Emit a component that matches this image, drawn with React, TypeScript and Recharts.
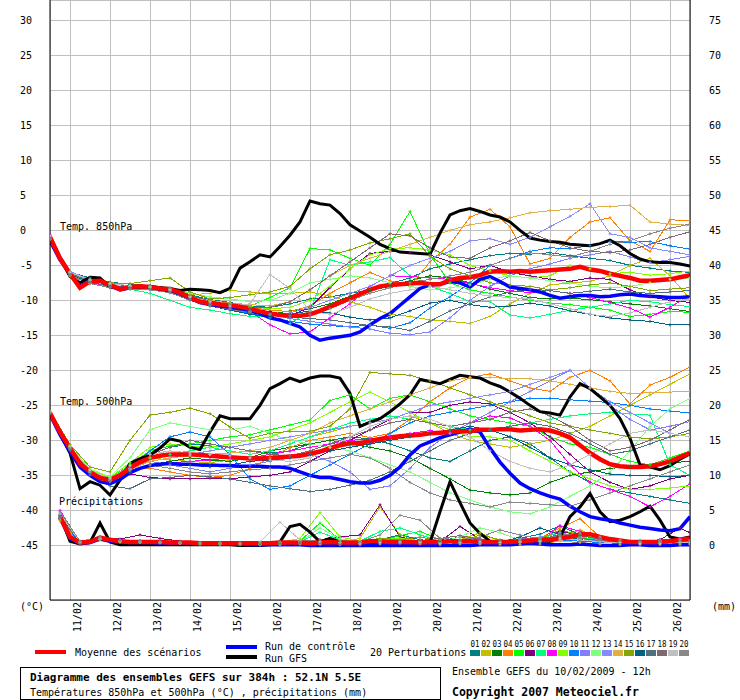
import React from 'react';
import { LineChart, Line, XAxis, YAxis, CartesianGrid } from 'recharts';

const FONT = "'DejaVu Sans Mono', monospace";

// time steps, in hours after the run (10/02 12h)
const STEPS_6H = Array.from({ length: 65 }, (_, i) => i * 6);
const STEPS_12H = Array.from({ length: 33 }, (_, i) => i * 12);
const RAIN_6H = Array.from({ length: 64 }, (_, i) => 6 + i * 6);
const RAIN_12H = [...Array.from({ length: 32 }, (_, i) => 6 + i * 12), 384];

const DAY_TICKS = [12, 36, 60, 84, 108, 132, 156, 180, 204, 228, 252, 276, 300, 324, 348, 372];
const DAY_LABELS = ['11/02', '12/02', '13/02', '14/02', '15/02', '16/02', '17/02', '18/02',
  '19/02', '20/02', '21/02', '22/02', '23/02', '24/02', '25/02', '26/02'];
const TEMP_TICKS = [-45, -40, -35, -30, -25, -20, -15, -10, -5, 0, 5, 10, 15, 20, 25, 30];
const RAIN_TICKS = [0, 5, 10, 15, 20, 25, 30, 35, 40, 45, 50, 55, 60, 65, 70, 75];

const MEMBER_COLORS = ['#008080', '#c0c000', '#008000', '#ff8000', '#00ff00', '#800080', '#00ff80',
  '#ff00ff', '#80ff00', '#0080ff', '#8080ff', '#80ff80', '#8888ff', '#e0b040', '#80a800',
  '#006080', '#507080', '#806870', '#c0c0c0', '#888888'];

// 850 hPa (6-hourly)
const MEAN_850 = [-1.0, -4.0, -6.2, -8.2, -7.3, -7.2, -7.8, -8.4, -8.1, -8.0,
  -8.1, -8.3, -8.4, -8.9, -9.6, -10.2, -10.4, -10.6, -10.7, -10.9,
  -11.2, -11.6, -11.9, -12.1, -12.2, -12.2, -12.0, -11.5, -10.9, -10.3,
  -9.7, -9.1, -8.5, -8.0, -7.8, -7.7, -7.6, -7.5, -7.7, -7.7,
  -7.1, -6.8, -6.7, -6.4, -5.9, -5.8, -5.9, -5.8, -5.9, -5.8,
  -5.7, -5.6, -5.5, -5.2, -5.6, -5.8, -6.2, -6.5, -6.8, -7.2,
  -7.2, -7.1, -7.0, -6.7, -6.4];
const GFS_850 = [-0.8, -4.0, -6.6, -7.5, -6.7, -6.8, -8.1, -8.3, -8.2, -8.1,
  -8.0, -8.2, -8.3, -8.6, -8.4, -8.5, -8.6, -8.9, -8.3, -5.4,
  -4.5, -3.5, -3.8, -2.3, -0.7, 1.2, 4.2, 3.8, 3.6, 2.4,
  0.8, -0.1, -1.0, -2.0, -2.6, -3.1, -3.2, -3.3, -3.4, -0.4,
  2.2, 2.8, 3.1, 2.7, 2.2, 1.9, 1.2, 0.0, -1.1, -1.4,
  -1.6, -1.7, -2.0, -2.1, -2.2, -1.9, -1.4, -2.2, -3.3, -4.1,
  -4.5, -4.6, -4.6, -4.8, -5.1];
const CTRL_850 = [-1.5, -4.2, -6.2, -8.0, -7.2, -7.2, -7.9, -8.5, -8.2, -8.0,
  -8.1, -8.4, -8.6, -9.0, -9.7, -10.3, -10.6, -10.8, -11.0, -11.2,
  -11.4, -11.9, -12.5, -12.8, -13.3, -13.8, -15.0, -15.7, -15.4, -15.2,
  -15.0, -14.5, -13.5, -12.6, -11.9, -10.7, -9.5, -8.3, -7.8, -7.7,
  -7.3, -7.5, -8.1, -7.0, -6.6, -7.3, -8.1, -8.3, -8.5, -8.8,
  -9.3, -9.7, -9.5, -9.3, -9.3, -9.5, -9.4, -9.2, -9.1, -9.3,
  -9.4, -9.5, -9.6, -9.6, -9.5];

// 500 hPa (6-hourly)
const MEAN_500 = [-26.1, -28.8, -31.1, -33.3, -34.5, -35.4, -35.6, -35.0, -33.9, -33.1,
  -32.5, -32.2, -32.0, -32.0, -32.0, -32.1, -32.2, -32.3, -32.4, -32.5,
  -32.6, -32.6, -32.5, -32.4, -32.3, -32.2, -31.9, -31.6, -31.1, -30.7,
  -30.4, -30.4, -30.1, -29.8, -29.6, -29.4, -29.3, -29.2, -29.0, -28.9,
  -28.8, -28.7, -28.7, -28.5, -28.5, -28.4, -28.4, -28.6, -28.5, -28.4,
  -28.6, -29.0, -29.6, -30.7, -31.8, -32.7, -33.4, -33.7, -33.8, -33.8,
  -33.7, -33.4, -33.0, -32.4, -31.8];
const GFS_500 = [-26.0, -29.0, -31.8, -36.9, -35.9, -36.4, -37.8, -35.7, -33.3, -32.6,
  -32.1, -31.1, -29.8, -30.1, -31.0, -31.3, -28.8, -26.5, -26.9, -26.9,
  -26.9, -25.0, -22.6, -21.9, -21.1, -21.6, -21.1, -20.8, -20.8, -21.1,
  -23.3, -28.0, -27.4, -26.9, -25.9, -24.8, -23.5, -21.3, -21.6, -21.9,
  -21.3, -20.7, -20.9, -21.1, -21.8, -22.3, -23.1, -24.0, -25.0, -25.9,
  -26.1, -26.4, -23.8, -21.9, -22.6, -23.8, -25.0, -26.9, -29.7, -33.5,
  -33.8, -34.2, -33.6, -32.7, -31.9];
const CTRL_500 = [-26.3, -29.2, -31.6, -33.8, -35.0, -35.9, -36.2, -35.6, -34.6, -34.0,
  -33.6, -33.4, -33.3, -33.4, -33.4, -33.5, -33.5, -33.6, -33.6, -33.7,
  -33.7, -33.7, -33.8, -33.8, -34.0, -34.5, -35.0, -35.3, -35.3, -35.6,
  -35.9, -36.1, -36.1, -35.7, -35.0, -33.8, -32.1, -30.8, -30.2, -29.6,
  -29.2, -28.8, -28.4, -28.8, -31.1, -33.1, -34.7, -36.1, -36.9, -37.5,
  -38.0, -38.4, -39.4, -40.2, -40.9, -41.2, -41.4, -41.8, -42.1, -42.4,
  -42.6, -42.8, -42.9, -42.6, -40.9];

// precipitation in mm (6-hourly, from +6h)
const MEAN_RAIN = [4.1, 1.2, 0.4, 0.5, 1.1, 0.8, 0.6, 0.5, 0.5, 0.5,
  0.5, 0.4, 0.4, 0.4, 0.3, 0.3, 0.3, 0.3, 0.3, 0.3,
  0.3, 0.3, 0.4, 0.4, 0.4, 0.3, 0.4, 0.5, 0.4, 0.4,
  0.4, 0.6, 0.6, 0.5, 0.5, 0.5, 0.4, 0.5, 0.5, 0.6,
  0.6, 0.6, 0.5, 0.5, 0.5, 0.5, 0.6, 0.7, 0.8, 0.8,
  1.0, 1.2, 1.6, 1.6, 1.2, 0.9, 0.7, 0.5, 0.5, 0.5,
  0.5, 0.6, 0.8, 1.0];
const GFS_RAIN = [4.3, 0.6, 0.2, 0.4, 3.2, 0.5, 0.1, 0.1, 0.1, 0.1,
  0.1, 0.1, 0.1, 0.1, 0.1, 0.1, 0.1, 0.1, 0.0, 0.0,
  0.0, 0.1, 0.5, 2.7, 3.0, 1.9, 0.5, 1.0, 0.5, 0.1,
  0.1, 0.2, 0.3, 0.1, 0.1, 0.1, 0.1, 0.4, 4.8, 9.1,
  6.1, 3.2, 1.7, 0.6, 0.3, 0.3, 0.3, 0.4, 0.6, 0.6,
  1.2, 4.1, 5.5, 7.4, 4.8, 3.4, 3.6, 4.1, 4.8, 5.6,
  3.6, 1.2, 0.9, 1.2];
const CTRL_RAIN = [4.0, 1.0, 0.3, 0.4, 0.9, 0.6, 0.5, 0.4, 0.4, 0.4,
  0.3, 0.3, 0.3, 0.3, 0.2, 0.2, 0.2, 0.2, 0.2, 0.1,
  0.1, 0.1, 0.1, 0.1, 0.1, 0.0, 0.0, 0.0, 0.0, 0.0,
  0.0, 0.0, 0.0, 0.0, 0.0, 0.0, 0.0, 0.0, 0.0, 0.0,
  0.0, 0.0, 0.1, 0.1, 0.1, 0.1, 0.2, 0.3, 0.2, 0.1,
  0.1, 0.1, 0.2, 0.1, 0.0, 0.0, 0.0, 0.1, 0.1, 0.0,
  0.0, 0.0, 0.1, 0.1];

// 20 perturbations, 12-hourly
const MEMBERS_850 = [
  [-0.8, -6.0, -6.8, -7.4, -7.7, -7.9, -8.2, -9.2, -9.9, -10.3, -10.8, -11.0, -10.5, -9.8, -9.5, -9.0, -8.5, -7.6, -6.8, -5.5, -4.8, -4.2, -3.6, -3.3, -3.4, -3.2, -3.6, -4.0, -4.3, -5.0, -5.4, -5.8, -6.0],
  [-1.3, -6.3, -7.2, -8.0, -8.3, -8.1, -8.6, -9.2, -9.0, -8.6, -8.8, -9.1, -9.0, -8.8, -9.4, -10.2, -11.0, -12.0, -12.3, -12.8, -13.0, -13.3, -12.3, -10.5, -9.0, -7.8, -7.5, -7.3, -6.5, -5.0, -4.0, -6.5, -9.8],
  [-1.0, -6.1, -7.5, -7.9, -8.3, -8.2, -8.8, -9.9, -10.6, -11.2, -11.8, -12.0, -11.5, -11.2, -10.5, -9.4, -8.6, -8.0, -7.2, -6.5, -6.8, -7.5, -8.4, -9.0, -9.6, -9.8, -9.7, -9.9, -10.2, -10.5, -10.8, -11.2, -11.6],
  [-1.2, -6.5, -7.6, -8.0, -8.3, -8.3, -8.5, -9.4, -10.0, -10.6, -11.0, -11.4, -11.6, -10.8, -9.0, -7.5, -6.0, -7.2, -8.0, -4.5, -2.0, 1.9, 3.0, 0.5, -4.8, -4.0, -1.0, 1.2, 1.8, -1.5, -3.0, 1.5, 1.4],
  [-0.9, -5.9, -7.0, -7.6, -7.9, -8.0, -8.4, -9.5, -10.2, -10.6, -10.8, -9.6, -8.2, -2.6, -2.8, -4.0, -5.0, -2.0, 2.7, -3.5, -7.5, -8.5, -9.0, -9.5, -10.0, -10.4, -10.6, -11.0, -11.4, -12.3, -12.0, -11.6, -11.7],
  [-1.1, -6.2, -7.4, -7.9, -8.1, -8.3, -8.6, -9.7, -10.5, -11.0, -11.3, -11.6, -12.2, -11.0, -8.2, -5.5, -3.3, -3.0, -3.2, -3.5, -4.5, -5.5, -5.0, -6.0, -6.5, -7.0, -7.3, -6.8, -7.0, -8.5, -9.5, -10.0, -10.3],
  [-1.0, -6.0, -7.3, -7.9, -8.4, -9.0, -10.0, -11.0, -11.4, -11.9, -12.3, -12.4, -13.3, -11.5, -4.2, -5.0, -4.5, -3.9, -6.5, -8.0, -9.0, -10.2, -10.2, -12.1, -12.5, -12.0, -11.4, -11.0, -10.5, -10.0, -10.2, -10.6, -10.9],
  [-0.6, -6.3, -7.5, -8.0, -8.2, -8.4, -8.7, -9.8, -10.6, -11.2, -11.6, -13.5, -14.8, -14.5, -12.5, -10.5, -8.0, -6.5, -6.6, -6.8, -7.0, -7.6, -8.2, -8.6, -8.9, -8.6, -9.0, -9.6, -10.3, -11.1, -12.4, -11.0, -9.3],
  [-1.0, -6.1, -7.2, -7.7, -8.0, -8.2, -8.5, -9.4, -10.0, -10.5, -10.9, -11.2, -11.0, -10.0, -8.0, -5.5, -3.5, -2.6, -2.5, -2.8, -3.5, -5.0, -5.8, -6.5, -6.8, -6.5, -5.0, -5.5, -6.2, -6.0, -6.4, -6.2, -5.8],
  [-1.1, -6.2, -7.3, -7.9, -8.2, -8.4, -8.9, -9.9, -10.7, -11.3, -11.9, -12.5, -13.0, -13.4, -13.6, -13.8, -13.5, -14.0, -13.2, -11.1, -9.5, -7.5, -5.0, -4.0, -3.0, -2.5, -2.6, -2.2, -1.6, -1.7, -1.6, -2.2, -2.7],
  [-1.0, -6.0, -7.1, -7.7, -8.0, -8.1, -8.5, -9.6, -10.4, -10.9, -11.5, -12.0, -12.6, -13.0, -13.4, -13.8, -14.1, -14.7, -14.9, -14.5, -12.5, -10.0, -8.0, -6.5, -5.5, -4.8, -4.0, -3.5, -3.0, -3.8, -4.6, -4.2, -3.7],
  [-1.1, -6.2, -7.4, -7.8, -8.0, -8.0, -8.3, -9.0, -9.5, -9.8, -10.2, -10.0, -9.0, -7.5, -7.0, -6.5, -6.8, -7.5, -8.0, -8.5, -8.2, -7.8, -7.0, -6.5, -6.8, -7.2, -7.5, -8.0, -8.2, -8.0, -7.5, -7.0, -6.8],
  [-0.9, -5.9, -7.0, -7.6, -7.9, -8.2, -8.6, -9.8, -10.6, -11.1, -11.6, -12.0, -11.8, -11.0, -10.0, -9.0, -8.0, -6.5, -5.0, -4.0, -3.0, -1.5, -1.2, -2.0, -1.0, 0.5, 2.0, 3.8, -0.5, -1.0, -2.5, -3.0, -3.5],
  [-1.2, -6.4, -7.6, -8.1, -8.2, -8.3, -8.7, -9.5, -10.0, -10.4, -10.6, -10.8, -10.2, -8.5, -6.5, -5.0, -4.0, -3.0, -2.0, -1.0, 0.0, 0.8, 1.2, 1.8, 2.5, 2.8, 3.0, 3.3, 3.4, 3.6, 1.2, 0.9, 0.7],
  [-1.0, -6.0, -7.1, -7.5, -7.6, -7.2, -6.8, -8.8, -9.8, -9.6, -9.2, -8.8, -8.0, -5.5, -3.5, -2.8, -1.8, -1.2, -0.5, -3.7, -5.5, -6.5, -7.5, -7.8, -8.0, -8.5, -8.2, -7.8, -7.5, -8.0, -8.6, -8.4, -8.2],
  [-1.1, -6.3, -7.4, -8.0, -8.2, -8.3, -8.8, -9.9, -10.8, -11.4, -12.0, -12.3, -12.0, -11.5, -11.8, -12.4, -12.8, -12.5, -11.5, -10.4, -10.0, -10.6, -11.0, -10.8, -10.4, -10.8, -11.5, -12.0, -12.5, -12.8, -13.0, -13.5, -13.5],
  [-1.2, -6.2, -7.3, -8.1, -8.3, -8.4, -8.7, -9.8, -10.6, -11.0, -11.4, -11.9, -12.4, -12.6, -12.8, -13.2, -13.6, -13.8, -14.3, -13.0, -11.5, -10.5, -9.5, -8.8, -8.4, -8.6, -9.0, -8.7, -8.4, -8.8, -9.0, -8.8, -8.6],
  [-1.0, -6.1, -7.2, -7.7, -7.9, -8.0, -8.3, -9.3, -10.1, -10.6, -11.0, -11.0, -10.2, -8.5, -6.5, -4.5, -2.5, -0.5, -0.8, -2.5, -3.8, -4.0, -2.5, -1.5, -0.3, -1.5, -2.5, -3.0, -3.2, -2.8, -2.0, -1.0, -0.2],
  [-0.8, -6.0, -7.1, -7.6, -7.9, -8.1, -8.5, -9.5, -10.2, -10.8, -10.5, -6.3, -8.3, -11.5, -12.0, -11.0, -9.8, -9.0, -8.5, -8.0, -8.5, -9.0, -9.4, -9.6, -9.8, -10.5, -11.2, -12.0, -12.3, -11.8, -11.0, -10.2, -9.8],
  [-1.3, -6.4, -7.6, -8.2, -8.4, -8.5, -8.9, -10.0, -10.8, -11.3, -11.7, -12.0, -12.2, -12.0, -11.2, -10.0, -9.0, -8.2, -7.5, -7.0, -6.5, -6.0, -5.0, -4.0, -3.2, -3.5, -3.8, -3.0, -2.0, -1.5, -0.5, 0.3, 0.9],
];

const MEMBERS_500 = [
  [-26.0, -31.0, -34.3, -35.5, -33.5, -32.0, -31.0, -30.5, -30.8, -31.0, -31.5, -31.8, -31.5, -30.5, -30.0, -29.5, -29.8, -30.5, -31.5, -32.5, -33.0, -31.5, -30.0, -29.5, -30.5, -32.5, -34.5, -36.0, -37.0, -37.5, -38.0, -38.5, -39.0],
  [-26.1, -31.2, -34.6, -35.8, -34.0, -32.5, -32.8, -33.0, -33.2, -32.8, -32.5, -31.5, -30.5, -29.5, -28.8, -28.0, -27.5, -27.0, -26.5, -27.5, -29.0, -30.0, -30.5, -31.0, -30.5, -30.0, -29.0, -28.0, -26.5, -25.0, -23.5, -22.0, -20.5],
  [-26.0, -31.3, -34.7, -35.9, -34.5, -33.5, -33.0, -32.5, -32.8, -33.0, -32.5, -31.5, -31.0, -30.5, -30.0, -30.5, -31.0, -31.5, -32.5, -34.0, -35.5, -37.1, -37.5, -37.8, -37.5, -36.0, -35.0, -34.5, -34.0, -33.8, -33.5, -33.2, -33.0],
  [-26.1, -31.0, -34.4, -35.7, -34.2, -34.0, -34.5, -35.0, -35.3, -35.0, -34.0, -32.5, -31.0, -30.0, -29.5, -29.0, -29.6, -29.0, -27.0, -24.5, -22.5, -21.0, -20.5, -21.5, -22.5, -23.0, -21.0, -20.0, -21.5, -24.8, -22.1, -21.0, -19.5],
  [-26.0, -30.9, -34.2, -35.4, -33.5, -31.5, -30.8, -30.5, -30.0, -29.5, -29.2, -28.5, -27.8, -27.1, -24.3, -23.5, -25.5, -24.0, -23.5, -24.5, -25.5, -26.5, -27.0, -27.5, -28.0, -29.5, -30.5, -31.0, -32.0, -33.0, -33.5, -32.5, -31.5],
  [-26.0, -31.1, -34.5, -35.6, -34.8, -35.3, -35.5, -35.5, -35.4, -35.5, -35.2, -35.0, -34.5, -33.0, -31.5, -30.0, -28.5, -27.0, -26.0, -26.0, -25.0, -24.5, -24.8, -26.0, -27.5, -29.5, -32.0, -34.5, -36.0, -37.0, -36.5, -35.5, -35.0],
  [-26.1, -31.2, -34.6, -35.8, -34.0, -32.5, -32.0, -31.5, -31.0, -31.5, -32.0, -31.5, -30.5, -29.5, -28.5, -27.5, -27.0, -26.5, -27.0, -27.5, -28.0, -28.5, -28.5, -28.0, -27.5, -27.0, -26.5, -26.2, -26.0, -26.2, -26.4, -33.5, -35.0],
  [-26.2, -31.3, -34.8, -36.0, -34.5, -33.5, -33.2, -33.0, -32.8, -32.5, -32.5, -32.0, -31.5, -31.0, -30.5, -30.0, -29.8, -29.5, -29.0, -28.6, -29.0, -27.5, -26.5, -26.8, -28.0, -30.0, -33.5, -36.0, -37.0, -38.0, -39.5, -38.0, -36.2],
  [-25.9, -30.8, -34.2, -35.3, -33.2, -31.0, -30.5, -30.8, -31.0, -30.5, -30.0, -29.5, -28.5, -27.5, -26.0, -24.5, -23.1, -24.5, -26.0, -27.5, -28.5, -29.5, -29.5, -30.0, -31.5, -33.0, -34.5, -35.5, -36.5, -37.0, -37.0, -36.8, -36.5],
  [-26.1, -31.1, -34.6, -35.7, -34.0, -31.5, -29.5, -28.8, -29.5, -32.0, -35.5, -37.0, -36.5, -35.0, -33.5, -32.0, -30.5, -29.0, -27.5, -26.5, -26.0, -25.5, -25.0, -24.5, -24.0, -24.0, -24.2, -24.4, -24.6, -25.0, -25.5, -25.8, -26.1],
  [-26.0, -31.0, -34.4, -35.5, -34.0, -33.0, -33.5, -34.0, -34.5, -34.0, -33.5, -33.0, -32.5, -32.0, -33.0, -34.5, -37.0, -36.5, -34.0, -31.0, -29.0, -27.5, -26.0, -24.5, -23.0, -21.5, -20.0, -22.5, -25.0, -27.0, -28.5, -28.0, -27.3],
  [-25.9, -30.8, -34.1, -35.2, -32.5, -28.5, -27.5, -28.0, -28.5, -28.5, -28.0, -29.0, -30.0, -30.5, -31.0, -31.5, -32.5, -33.5, -34.5, -36.0, -37.5, -38.5, -39.5, -40.2, -40.5, -39.5, -38.0, -36.5, -34.5, -31.5, -28.0, -25.5, -24.0],
  [-26.1, -31.2, -34.5, -35.6, -34.0, -33.0, -32.5, -32.0, -31.5, -31.0, -30.5, -30.0, -29.5, -29.0, -28.5, -28.0, -27.5, -27.0, -26.0, -25.0, -24.5, -24.0, -23.5, -23.0, -22.0, -21.0, -20.0, -22.5, -24.5, -26.0, -27.5, -29.0, -29.5],
  [-26.0, -31.1, -34.5, -35.7, -34.2, -33.0, -32.5, -32.2, -32.0, -31.8, -31.5, -31.0, -30.0, -29.0, -27.5, -26.5, -25.5, -24.5, -23.5, -22.5, -21.5, -21.0, -21.0, -21.2, -21.2, -21.5, -22.0, -22.5, -23.0, -23.3, -23.2, -23.1, -23.0],
  [-25.8, -30.6, -33.8, -34.5, -30.0, -26.4, -26.0, -25.4, -26.2, -28.1, -29.7, -29.0, -28.7, -28.7, -28.0, -25.5, -20.3, -20.5, -20.7, -21.5, -22.5, -23.5, -24.5, -25.5, -26.5, -27.5, -28.0, -28.5, -29.0, -29.5, -29.8, -29.5, -29.0],
  [-26.1, -31.2, -34.7, -35.9, -34.6, -33.5, -33.2, -33.5, -33.8, -33.5, -33.0, -32.8, -32.5, -32.0, -31.5, -31.0, -30.5, -30.0, -29.5, -29.0, -28.5, -28.0, -28.5, -29.5, -31.0, -32.5, -33.5, -34.2, -34.8, -35.0, -35.0, -35.2, -35.0],
  [-26.2, -31.4, -35.0, -36.5, -36.9, -35.5, -35.3, -35.0, -35.2, -35.5, -36.0, -36.5, -36.9, -37.3, -37.0, -36.4, -35.7, -34.5, -33.0, -31.5, -30.0, -29.0, -28.5, -28.0, -27.5, -28.0, -29.0, -30.5, -32.0, -31.5, -30.5, -29.5, -28.5],
  [-26.0, -31.0, -34.4, -35.6, -33.8, -32.0, -31.0, -30.0, -30.5, -31.0, -31.5, -32.0, -32.2, -31.5, -30.5, -29.5, -28.5, -27.5, -27.0, -27.5, -28.0, -27.5, -27.0, -26.0, -25.5, -26.5, -28.0, -30.0, -31.5, -31.0, -30.0, -28.5, -27.0],
  [-25.9, -30.9, -34.3, -35.5, -33.6, -32.0, -31.5, -31.8, -32.0, -32.2, -32.5, -32.8, -33.0, -32.5, -31.0, -29.5, -28.0, -27.0, -26.5, -27.0, -28.0, -29.5, -31.5, -33.0, -34.0, -34.5, -33.5, -32.0, -30.5, -29.0, -28.5, -29.0, -29.5],
  [-26.1, -31.2, -34.6, -35.8, -34.3, -33.5, -34.0, -34.5, -34.8, -34.5, -34.2, -34.0, -33.5, -33.0, -32.5, -32.0, -32.5, -34.0, -36.0, -37.5, -38.5, -39.0, -39.5, -38.8, -39.0, -39.2, -39.4, -38.5, -37.5, -36.5, -35.5, -34.5, -33.5],
];

const MEMBERS_RAIN = [
  [4.0, 0.5, 1.0, 0.6, 0.6, 0.5, 0.4, 0.3, 0.3, 0.2, 0.3, 0.5, 0.4, 0.6, 0.3, 0.2, 0.8, 1.5, 0.8, 0.6, 1.2, 0.8, 0.5, 1.0, 1.6, 2.8, 1.5, 0.8, 0.5, 0.6, 0.3, 0.4, 0.5],
  [3.5, 0.3, 0.8, 0.5, 0.4, 0.4, 0.3, 0.2, 0.2, 0.1, 0.1, 0.2, 0.3, 0.2, 0.4, 1.0, 5.5, 1.5, 0.5, 0.3, 0.8, 1.8, 0.6, 0.4, 0.5, 1.2, 2.2, 1.0, 0.6, 0.4, 0.6, 0.8, 0.5],
  [4.2, 0.4, 0.9, 0.6, 0.5, 0.5, 0.4, 0.3, 0.2, 0.2, 0.2, 0.3, 0.2, 0.3, 0.2, 0.3, 0.5, 0.6, 0.4, 0.3, 0.5, 0.4, 0.6, 0.8, 0.5, 1.5, 0.8, 0.6, 0.4, 0.3, 0.5, 0.4, 0.3],
  [4.5, 0.5, 1.2, 0.7, 0.6, 0.5, 0.4, 0.3, 0.3, 0.2, 0.2, 0.2, 0.3, 0.3, 0.2, 0.4, 0.6, 0.4, 0.3, 0.5, 0.4, 0.3, 0.5, 0.4, 1.0, 2.5, 3.8, 1.2, 0.6, 0.4, 0.8, 1.0, 0.6],
  [4.3, 0.4, 1.0, 0.6, 0.5, 0.5, 0.5, 0.4, 0.3, 0.3, 0.2, 0.4, 0.6, 3.2, 0.8, 0.5, 0.6, 1.4, 2.0, 0.8, 0.5, 0.6, 0.4, 0.5, 0.8, 1.6, 1.2, 0.6, 0.4, 0.3, 0.4, 0.6, 0.5],
  [3.8, 0.6, 1.1, 0.9, 1.5, 1.0, 0.6, 0.4, 0.3, 0.3, 0.3, 0.4, 0.5, 0.8, 1.2, 1.5, 5.8, 1.2, 0.6, 0.5, 2.7, 0.9, 0.5, 0.6, 0.8, 2.0, 1.5, 0.8, 0.6, 0.5, 0.8, 2.5, 1.8],
  [4.0, 0.4, 1.0, 0.6, 0.5, 0.4, 0.4, 0.3, 0.3, 0.2, 0.3, 0.3, 0.5, 1.9, 0.8, 0.6, 2.0, 2.5, 1.5, 0.6, 0.5, 0.4, 0.5, 0.6, 1.0, 1.8, 1.2, 0.8, 0.5, 0.4, 0.5, 0.4, 0.4],
  [5.0, 0.5, 1.0, 0.7, 0.6, 0.5, 0.4, 0.3, 0.3, 0.3, 0.3, 0.2, 0.3, 0.4, 0.3, 0.2, 0.5, 0.8, 0.6, 0.4, 0.5, 0.7, 0.5, 0.6, 0.8, 2.8, 2.0, 1.0, 0.5, 0.6, 0.8, 1.0, 0.8],
  [4.1, 0.4, 0.9, 0.6, 0.5, 0.4, 0.4, 0.3, 0.2, 0.2, 0.3, 0.4, 1.0, 4.7, 1.2, 0.6, 0.8, 1.0, 0.7, 0.5, 0.6, 0.5, 0.4, 0.5, 0.7, 1.4, 1.0, 0.6, 0.4, 0.5, 0.6, 0.5, 0.4],
  [3.9, 0.3, 0.8, 0.5, 0.4, 0.3, 0.3, 0.2, 0.2, 0.2, 0.1, 0.1, 0.2, 0.2, 0.3, 0.2, 0.3, 0.4, 0.5, 0.4, 0.3, 0.4, 0.3, 0.5, 0.6, 0.8, 0.6, 0.4, 0.3, 0.2, 0.3, 0.4, 0.3],
  [4.4, 0.5, 1.1, 0.6, 0.6, 0.5, 0.4, 0.3, 0.3, 0.2, 0.2, 0.2, 0.3, 0.2, 0.3, 0.4, 0.6, 0.5, 0.4, 0.3, 0.6, 0.8, 0.6, 1.0, 0.8, 1.2, 1.6, 0.8, 0.6, 0.5, 0.4, 0.3, 0.3],
  [4.0, 0.4, 0.9, 0.6, 0.5, 0.4, 0.3, 0.3, 0.2, 0.2, 0.2, 0.3, 0.5, 2.5, 0.9, 0.5, 0.7, 0.8, 0.6, 0.5, 1.2, 2.5, 1.8, 0.8, 0.6, 0.8, 1.0, 0.7, 0.5, 0.4, 0.6, 0.5, 0.4],
  [4.6, 0.5, 1.0, 0.7, 0.6, 0.5, 0.4, 0.4, 0.3, 0.3, 0.3, 0.2, 0.3, 0.3, 0.4, 0.3, 0.4, 0.6, 0.5, 0.4, 0.5, 0.4, 0.4, 0.6, 1.2, 1.8, 1.0, 0.6, 0.5, 0.4, 0.3, 0.4, 0.4],
  [4.2, 0.4, 0.9, 0.5, 0.5, 0.4, 0.3, 0.2, 0.2, 0.1, 0.1, 0.1, 0.2, 0.2, 0.1, 0.1, 0.2, 0.3, 0.2, 0.1, 0.2, 0.2, 0.1, 0.1, 0.2, 0.6, 0.4, 0.2, 0.1, 0.1, 0.1, 0.1, 0.1],
  [3.7, 0.5, 1.0, 0.6, 0.6, 0.5, 0.5, 0.4, 0.3, 0.3, 0.3, 0.3, 0.4, 0.6, 0.4, 0.5, 1.0, 0.8, 1.2, 0.6, 0.5, 1.5, 0.8, 0.6, 0.9, 2.2, 1.5, 0.8, 0.6, 0.5, 0.4, 0.3, 0.3],
  [4.3, 0.5, 1.1, 0.7, 0.6, 0.5, 0.4, 0.3, 0.3, 0.2, 0.3, 0.3, 0.4, 0.4, 0.3, 0.4, 0.5, 0.6, 0.4, 0.5, 0.6, 0.5, 0.4, 1.2, 2.5, 1.5, 0.8, 0.5, 0.4, 0.6, 0.5, 0.4, 0.4],
  [4.1, 0.4, 1.0, 0.6, 0.5, 0.4, 0.4, 0.3, 0.2, 0.2, 0.2, 0.3, 0.3, 0.3, 0.2, 0.3, 0.5, 0.4, 0.3, 0.3, 0.4, 0.5, 0.4, 0.6, 0.8, 1.0, 1.4, 0.9, 0.6, 0.5, 0.4, 0.5, 0.5],
  [4.0, 0.5, 1.2, 0.8, 0.6, 0.5, 0.4, 0.3, 0.3, 0.2, 0.3, 0.3, 0.4, 0.5, 0.4, 0.3, 0.6, 0.5, 0.7, 1.0, 1.4, 0.9, 0.6, 0.5, 0.8, 1.6, 1.0, 0.7, 0.5, 0.4, 0.5, 0.6, 0.5],
  [4.5, 0.5, 1.0, 0.6, 0.5, 0.4, 0.4, 0.3, 0.3, 0.3, 0.5, 3.3, 0.8, 0.5, 0.4, 0.3, 0.4, 0.5, 0.4, 0.3, 0.4, 0.5, 0.4, 0.5, 0.6, 1.0, 0.8, 0.5, 0.4, 0.3, 0.3, 0.4, 0.4],
  [4.8, 0.6, 1.2, 0.7, 0.6, 0.5, 0.4, 0.3, 0.3, 0.3, 0.4, 0.5, 0.6, 0.8, 0.6, 0.5, 1.5, 4.3, 3.6, 1.0, 0.8, 1.2, 2.2, 1.5, 0.9, 1.4, 1.8, 1.2, 0.8, 0.6, 0.7, 0.8, 0.7],
];

const toPoints = (hours: number[], values: number[]) =>
  values.slice(0, hours.length).map((v, i) => ({ h: hours[i], v }));

// small "+" markers on the perturbation lines
const plusDot = (color: string) => (p: any) => {
  if (p.cx == null || p.cy == null) return <g key={`e-${p.index}`} />;
  return (
    <path key={`d-${p.index}`} d={`M${p.cx - 1.5},${p.cy}h3M${p.cx},${p.cy - 1.5}v3`}
      stroke={color} strokeWidth={1} fill="none" />
  );
};

const LeftTick = (p: any) => (
  <text x={20} y={p.y + 4} fontFamily={FONT} fontSize={10} fill="#000">{p.payload.value}</text>
);
const RightTick = (p: any) => (
  <text x={709} y={p.y + 4} fontFamily={FONT} fontSize={10} fill="#000">{p.payload.value}</text>
);
const DateTick = (p: any) => {
  const label = DAY_LABELS[DAY_TICKS.indexOf(p.payload.value)];
  return (
    <text transform={`translate(${p.x + 11},602) rotate(-90)`} textAnchor="end"
      fontFamily={FONT} fontSize={10} fill="#000">{label}</text>
  );
};

const txt = { fontFamily: FONT, fill: '#000' } as const;

const App = () => {
  const memberLines = (sets: number[][], hours: number[], tag: string, axis?: string) =>
    sets.map((vals, i) => (
      <Line key={`${tag}-${i}`} className="pert" data={toPoints(hours, vals)} dataKey="v" type="linear"
        yAxisId={axis ?? 0} stroke={MEMBER_COLORS[i]} strokeWidth={1}
        dot={plusDot(MEMBER_COLORS[i])} activeDot={false} isAnimationActive={false} />
    ));

  return (
    <div style={{ position: 'absolute', left: 0, top: 0, width: 740, height: 700, background: '#fff' }}>
      <style>{`.pert path, .recharts-cartesian-grid line { shape-rendering: crispEdges; }`}</style>
      <LineChart width={740} height={640} margin={{ top: 0, right: 0, bottom: 0, left: 0 }}>
        <CartesianGrid stroke="#c0c0c0" strokeWidth={1} />
        <XAxis dataKey="h" type="number" domain={[0, 384]} ticks={DAY_TICKS} interval={0}
          height={40} allowDataOverflow axisLine={{ stroke: '#000' }} tickLine={false} tick={DateTick} />
        <YAxis type="number" domain={[-52.8, 32.9]} ticks={TEMP_TICKS} interval={0} width={50}
          allowDataOverflow axisLine={{ stroke: '#000' }} tickLine={false} tick={LeftTick} />
        <YAxis yAxisId="r" orientation="right" type="number" domain={[-7.8, 77.9]} ticks={RAIN_TICKS}
          interval={0} width={50} allowDataOverflow axisLine={{ stroke: '#000' }} tickLine={false} tick={RightTick} />

        {memberLines(MEMBERS_RAIN, RAIN_12H, 'rr', 'r')}
        {memberLines(MEMBERS_500, STEPS_12H, 't5')}
        {memberLines(MEMBERS_850, STEPS_12H, 't8')}

        <Line data={toPoints(RAIN_6H, GFS_RAIN)} dataKey="v" yAxisId="r" stroke="#000" strokeWidth={3} dot={false} activeDot={false} isAnimationActive={false} />
        <Line data={toPoints(STEPS_6H, GFS_500)} dataKey="v" stroke="#000" strokeWidth={3} dot={false} activeDot={false} isAnimationActive={false} />
        <Line data={toPoints(STEPS_6H, GFS_850)} dataKey="v" stroke="#000" strokeWidth={3} dot={false} activeDot={false} isAnimationActive={false} />

        <Line data={toPoints(RAIN_6H, CTRL_RAIN)} dataKey="v" yAxisId="r" stroke="#0000ff" strokeWidth={3.5} dot={false} activeDot={false} isAnimationActive={false} />
        <Line data={toPoints(STEPS_6H, CTRL_500)} dataKey="v" stroke="#0000ff" strokeWidth={3.5} dot={false} activeDot={false} isAnimationActive={false} />
        <Line data={toPoints(STEPS_6H, CTRL_850)} dataKey="v" stroke="#0000ff" strokeWidth={3.5} dot={false} activeDot={false} isAnimationActive={false} />

        <Line data={toPoints(RAIN_6H, MEAN_RAIN)} dataKey="v" yAxisId="r" stroke="#ff0000" strokeWidth={4.5} dot={false} activeDot={false} isAnimationActive={false} />
        <Line data={toPoints(STEPS_6H, MEAN_500)} dataKey="v" stroke="#ff0000" strokeWidth={4.5} dot={false} activeDot={false} isAnimationActive={false} />
        <Line data={toPoints(STEPS_6H, MEAN_850)} dataKey="v" stroke="#ff0000" strokeWidth={4.5} dot={false} activeDot={false} isAnimationActive={false} />
      </LineChart>

      <svg width={740} height={700} style={{ position: 'absolute', left: 0, top: 0, pointerEvents: 'none' }}>
        <text x={60} y={229.5} fontSize={10} {...txt}>Temp. 850hPa</text>
        <text x={60} y={404.5} fontSize={10} {...txt}>Temp. 500hPa</text>
        <text x={59} y={504.5} fontSize={10} {...txt}>Précipitations</text>
        <text x={20} y={609.5} fontSize={10} {...txt}>(°C)</text>
        <text x={712} y={609.5} fontSize={10} {...txt}>(mm)</text>

        <rect x={35} y={650} width={31} height={4} fill="#ff0000" />
        <text x={75} y={655.5} fontSize={10} {...txt}>Moyenne des scénarios</text>
        <rect x={226} y={645} width={31} height={4} fill="#0000ff" />
        <rect x={226} y={655} width={31} height={4} fill="#000" />
        <text x={265} y={650} fontSize={10} {...txt}>Run de contrôle</text>
        <text x={265} y={661.5} fontSize={10} {...txt}>Run GFS</text>
        <text x={370} y={655.7} fontSize={10} {...txt}>20 Perturbations</text>
        {MEMBER_COLORS.map((c, i) => (
          <g key={`lg-${i}`}>
            <text x={475 + 11 * i} y={647.3} fontSize={8} textAnchor="middle" textLength={9}
              lengthAdjust="spacingAndGlyphs" {...txt}>{String(i + 1).padStart(2, '0')}</text>
            <rect x={470 + 11 * i} y={650} width={10} height={6} fill={c} />
          </g>
        ))}

        <rect x={20.5} y={667.5} width={420} height={32} fill="none" stroke="#000" strokeWidth={1} />
        <text x={30} y={681} fontSize={11} fontWeight="bold" {...txt}>Diagramme des ensembles GEFS sur 384h : 52.1N 5.5E</text>
        <text x={30} y={696} fontSize={10} {...txt}>Températures 850hPa et 500hPa (°C) , précipitations (mm)</text>
        <text x={452} y={675} fontSize={10} {...txt}>Ensemble GEFS du 10/02/2009 - 12h</text>
        <text x={452} y={696} fontSize={11.5} fontWeight="bold" {...txt}>Copyright 2007 Meteociel.fr</text>
      </svg>
    </div>
  );
};

export default App;
